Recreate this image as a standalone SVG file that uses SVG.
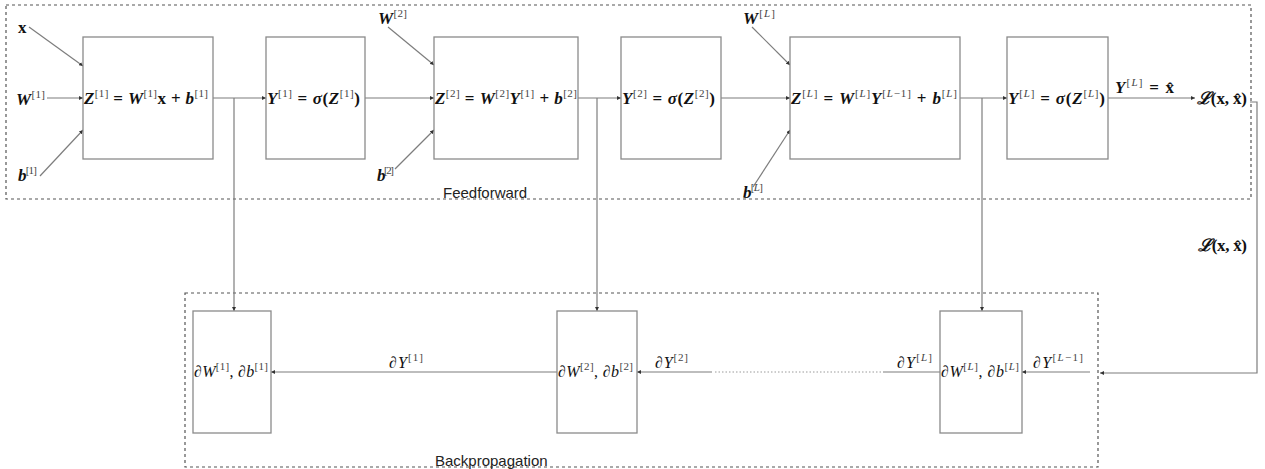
<svg xmlns="http://www.w3.org/2000/svg" width="1265" height="469" viewBox="0 0 1265 469">
  <style>
    .frame { fill: none; stroke: #555; stroke-width: 1.2; stroke-dasharray: 3 3; }
    .box { fill: #fff; stroke: #8a8a8a; stroke-width: 1.3; }
    .edge { fill: none; stroke: #7d7d7d; stroke-width: 1.2; }
    .dots { fill: none; stroke: #9a9a9a; stroke-width: 1; stroke-dasharray: 1.5 2; }
    .cap { font-family: "Liberation Sans", Arial, sans-serif; font-size: 15px; fill: #222; }
    .m { font-family: "Liberation Serif", "DejaVu Serif", serif; font-size: 17px; font-weight: bold; font-style: italic; fill: #111; }
    .r { font-weight: normal; font-size: 16px; }
    .u { font-style: normal; }
    .s { font-size: 11px; font-weight: normal; font-style: normal; fill: #444; }
    .i { font-style: italic; }
    .cal { font-family: "DejaVu Serif", "Liberation Serif", serif; font-style: italic; }
  </style>
  <defs>
    <marker id="arrow" viewBox="0 0 6 6" refX="6" refY="3" markerWidth="4" markerHeight="4" orient="auto" markerUnits="userSpaceOnUse">
      <path d="M0,0 L6,3 L0,6 z" fill="#333"/>
    </marker>
  </defs>

  <!-- group frames -->
  <g id="feedforward-frame">
    <rect class="frame" x="6" y="5" width="1245" height="194"/>
    <text class="cap" x="443" y="198">Feedforward</text>
  </g>
  <g id="backprop-frame">
    <rect class="frame" x="185" y="293" width="913" height="174"/>
    <text class="cap" x="435" y="466">Backpropagation</text>
  </g>

  <!-- connectors -->
  <g id="connectors">
    <!-- inputs of layer 1 -->
    <line class="edge" x1="29" y1="27" x2="83" y2="66" marker-end="url(#arrow)"/>
    <line class="edge" x1="47" y1="98" x2="83" y2="98" marker-end="url(#arrow)"/>
    <line class="edge" x1="40" y1="176" x2="83" y2="130" marker-end="url(#arrow)"/>
    <!-- inputs of layer 2 -->
    <line class="edge" x1="388" y1="27" x2="434" y2="65" marker-end="url(#arrow)"/>
    <line class="edge" x1="395" y1="169" x2="434" y2="130" marker-end="url(#arrow)"/>
    <!-- inputs of layer L -->
    <line class="edge" x1="752" y1="27" x2="790" y2="65" marker-end="url(#arrow)"/>
    <line class="edge" x1="753" y1="187" x2="790" y2="130" marker-end="url(#arrow)"/>
    <!-- forward chain -->
    <line class="edge" x1="213" y1="98" x2="266" y2="98" marker-end="url(#arrow)"/>
    <line class="edge" x1="365" y1="98" x2="434" y2="98" marker-end="url(#arrow)"/>
    <line class="edge" x1="578" y1="98" x2="621" y2="98" marker-end="url(#arrow)"/>
    <line class="edge" x1="721" y1="98" x2="790" y2="98" marker-end="url(#arrow)"/>
    <line class="edge" x1="960" y1="98" x2="1007" y2="98" marker-end="url(#arrow)"/>
    <line class="edge" x1="1108" y1="98" x2="1195" y2="98" marker-end="url(#arrow)"/>
    <!-- cached values sent down to the gradient nodes -->
    <line class="edge" x1="234" y1="98" x2="234" y2="311" marker-end="url(#arrow)"/>
    <line class="edge" x1="597" y1="98" x2="597" y2="311" marker-end="url(#arrow)"/>
    <line class="edge" x1="982" y1="98" x2="982" y2="311" marker-end="url(#arrow)"/>
    <!-- loss fed back -->
    <polyline class="edge" points="1250,102 1257,102 1257,373 1100,373" marker-end="url(#arrow)"/>
    <!-- backward chain -->
    <line class="edge" x1="1090" y1="372" x2="1022" y2="372" marker-end="url(#arrow)"/>
    <line class="edge" x1="940" y1="372" x2="883" y2="372"/>
    <line class="dots" x1="881" y1="372" x2="714" y2="372"/>
    <line class="edge" x1="712" y1="372" x2="637" y2="372" marker-end="url(#arrow)"/>
    <line class="edge" x1="557" y1="372" x2="271" y2="372" marker-end="url(#arrow)"/>
  </g>

  <!-- edge labels -->
  <g id="edge-labels">
    <text class="m" x="18" y="33"><tspan class="u">x</tspan></text>
    <text class="m" x="16" y="105" textLength="29">W<tspan class="s" dy="-7">[1]</tspan></text>
    <text class="m" x="18" y="181" textLength="19">b<tspan class="s" dy="-7">[1]</tspan></text>
    <text class="m" x="378" y="24" textLength="29">W<tspan class="s" dy="-7">[2]</tspan></text>
    <text class="m" x="377" y="181" textLength="17">b<tspan class="s" dy="-7">[2]</tspan></text>
    <text class="m" x="743" y="24" textLength="32">W<tspan class="s" dy="-7">[<tspan class="i">L</tspan>]</tspan></text>
    <text class="m" x="743" y="198" textLength="20">b<tspan class="s" dy="-7">[<tspan class="i">L</tspan>]</tspan></text>
    <text class="m" x="1115" y="93" textLength="59">Y<tspan class="s" dy="-7">[<tspan class="i">L</tspan>]</tspan><tspan class="u" dy="7"> = x̂</tspan></text>
    <text class="m" x="1198" y="251" textLength="49"><tspan class="cal">ℒ</tspan><tspan class="u">(x, x̂)</tspan></text>
    <text class="m r" x="389" y="368" textLength="34"><tspan class="u">∂</tspan>Y<tspan class="s" dy="-7">[1]</tspan></text>
    <text class="m r" x="655" y="368" textLength="33"><tspan class="u">∂</tspan>Y<tspan class="s" dy="-7">[2]</tspan></text>
    <text class="m r" x="897" y="368" textLength="35"><tspan class="u">∂</tspan>Y<tspan class="s" dy="-7">[<tspan class="i">L</tspan>]</tspan></text>
    <text class="m r" x="1033" y="368" textLength="50"><tspan class="u">∂</tspan>Y<tspan class="s" dy="-7">[<tspan class="i">L</tspan>−1]</tspan></text>
  </g>

  <!-- forward nodes -->
  <g id="z1">
    <rect class="box" x="83" y="37" width="130" height="122"/>
    <text class="m" x="84" y="104" textLength="124">Z<tspan class="s" dy="-7">[1]</tspan><tspan class="u" dy="7"> = </tspan>W<tspan class="s" dy="-7">[1]</tspan><tspan class="u" dy="7">x + </tspan>b<tspan class="s" dy="-7">[1]</tspan></text>
  </g>
  <g id="y1">
    <rect class="box" x="266" y="37" width="99" height="122"/>
    <text class="m" x="267" y="104" textLength="93">Y<tspan class="s" dy="-7">[1]</tspan><tspan class="u" dy="7"> = </tspan>σ<tspan class="u">(</tspan>Z<tspan class="s" dy="-7">[1]</tspan><tspan class="u" dy="7">)</tspan></text>
  </g>
  <g id="z2">
    <rect class="box" x="434" y="37" width="144" height="122"/>
    <text class="m" x="435" y="104" textLength="142">Z<tspan class="s" dy="-7">[2]</tspan><tspan class="u" dy="7"> = </tspan>W<tspan class="s" dy="-7">[2]</tspan><tspan dy="7">Y</tspan><tspan class="s" dy="-7">[1]</tspan><tspan class="u" dy="7"> + </tspan>b<tspan class="s" dy="-7">[2]</tspan></text>
  </g>
  <g id="y2">
    <rect class="box" x="621" y="37" width="100" height="122"/>
    <text class="m" x="622" y="104" textLength="93">Y<tspan class="s" dy="-7">[2]</tspan><tspan class="u" dy="7"> = </tspan>σ<tspan class="u">(</tspan>Z<tspan class="s" dy="-7">[2]</tspan><tspan class="u" dy="7">)</tspan></text>
  </g>
  <g id="zL">
    <rect class="box" x="790" y="37" width="170" height="122"/>
    <text class="m" x="791" y="104" textLength="166">Z<tspan class="s" dy="-7">[<tspan class="i">L</tspan>]</tspan><tspan class="u" dy="7"> = </tspan>W<tspan class="s" dy="-7">[<tspan class="i">L</tspan>]</tspan><tspan dy="7">Y</tspan><tspan class="s" dy="-7">[<tspan class="i">L</tspan>−1]</tspan><tspan class="u" dy="7"> + </tspan>b<tspan class="s" dy="-7">[<tspan class="i">L</tspan>]</tspan></text>
  </g>
  <g id="yL">
    <rect class="box" x="1007" y="37" width="101" height="122"/>
    <text class="m" x="1008" y="104" textLength="97">Y<tspan class="s" dy="-7">[<tspan class="i">L</tspan>]</tspan><tspan class="u" dy="7"> = </tspan>σ<tspan class="u">(</tspan>Z<tspan class="s" dy="-7">[<tspan class="i">L</tspan>]</tspan><tspan class="u" dy="7">)</tspan></text>
  </g>
  <g id="loss">
    <text class="m" x="1197" y="104" textLength="50"><tspan class="cal">ℒ</tspan><tspan class="u">(x, x̂)</tspan></text>
  </g>

  <!-- gradient nodes -->
  <g id="grad1">
    <rect class="box" x="193" y="311" width="78" height="122"/>
    <text class="m r" x="194" y="377" textLength="74"><tspan class="u">∂</tspan>W<tspan class="s" dy="-7">[1]</tspan><tspan class="u" dy="7">, ∂</tspan>b<tspan class="s" dy="-7">[1]</tspan></text>
  </g>
  <g id="grad2">
    <rect class="box" x="557" y="311" width="80" height="122"/>
    <text class="m r" x="558" y="377" textLength="75"><tspan class="u">∂</tspan>W<tspan class="s" dy="-7">[2]</tspan><tspan class="u" dy="7">, ∂</tspan>b<tspan class="s" dy="-7">[2]</tspan></text>
  </g>
  <g id="gradL">
    <rect class="box" x="940" y="311" width="82" height="122"/>
    <text class="m r" x="941" y="377" textLength="78"><tspan class="u">∂</tspan>W<tspan class="s" dy="-7">[<tspan class="i">L</tspan>]</tspan><tspan class="u" dy="7">, ∂</tspan>b<tspan class="s" dy="-7">[<tspan class="i">L</tspan>]</tspan></text>
  </g>
</svg>
